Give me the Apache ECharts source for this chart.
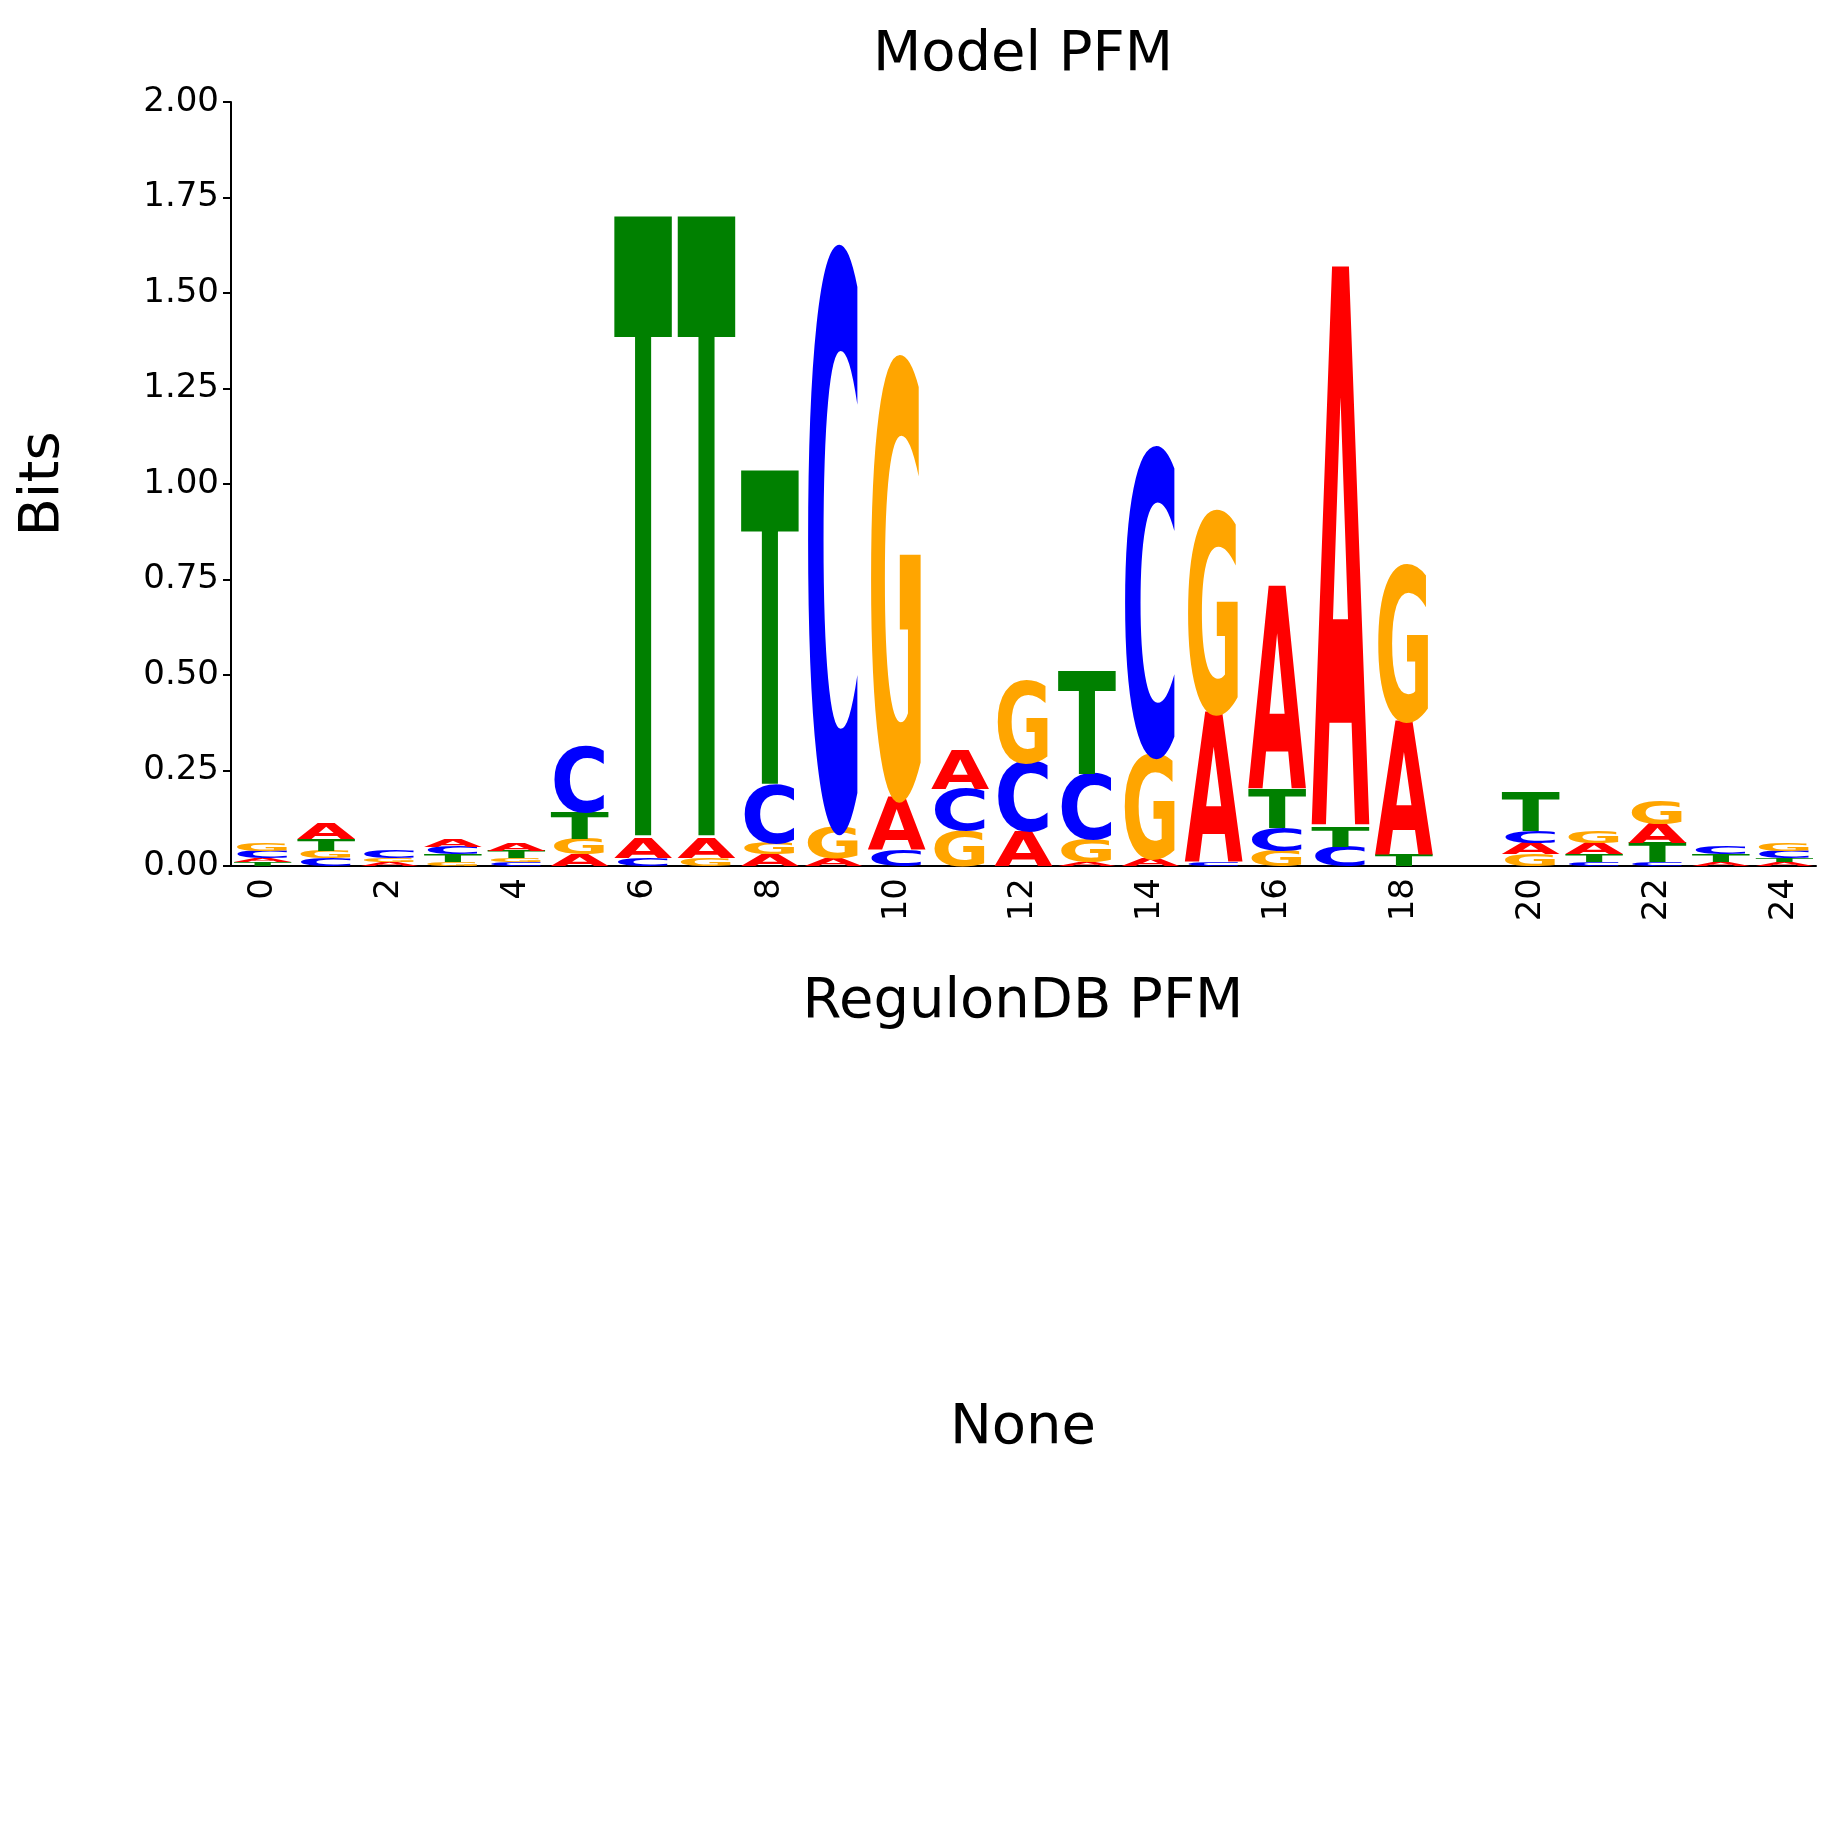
<!DOCTYPE html>
<html><head><meta charset="utf-8">
<script src="https://cdn.jsdelivr.net/npm/echarts@6/dist/echarts.min.js"></script>
<style>html,body{margin:0;background:#fff}#c{width:1834px;height:1834px}</style>
</head><body><div id="c"></div>
<script>
const positions = Array.from({length:25},(_,i)=>String(i));
// stacks bottom->top: [letter, bits]
const stacks = [
 [['T',0.01],['A',0.01],['C',0.02],['G',0.02]],
 [['C',0.02],['G',0.02],['T',0.03],['A',0.04]],
 [['A',0.01],['G',0.01],['C',0.02]],
 [['G',0.01],['T',0.02],['C',0.02],['A',0.02]],
 [['C',0.01],['G',0.01],['T',0.02],['A',0.02]],
 [['A',0.03],['G',0.04],['T',0.07],['C',0.17]],
 [['C',0.02],['A',0.05],['T',1.62]],
 [['G',0.02],['A',0.05],['T',1.62]],
 [['A',0.03],['G',0.03],['C',0.15],['T',0.82]],
 [['A',0.02],['G',0.08],['C',1.49]],
 [['C',0.04],['A',0.14],['G',1.13]],
 [['G',0.09],['C',0.11],['A',0.10]],
 [['A',0.09],['C',0.18],['G',0.21]],
 [['A',0.01],['G',0.06],['C',0.17],['T',0.27]],
 [['A',0.02],['G',0.27],['C',0.79]],
 [['C',0.01],['A',0.39],['G',0.52]],
 [['G',0.04],['C',0.06],['T',0.10],['A',0.53]],
 [['C',0.05],['T',0.05],['A',1.46]],
 [['T',0.03],['A',0.35],['G',0.40]],
 [],
 [['G',0.03],['A',0.03],['C',0.03],['T',0.10]],
 [['C',0.01],['T',0.02],['A',0.03],['G',0.03]],
 [['C',0.01],['T',0.05],['A',0.05],['G',0.06]],
 [['A',0.01],['T',0.02],['C',0.02]],
 [['A',0.01],['T',0.01],['C',0.02],['G',0.02]]
];
const yTicks = [0,0.25,0.5,0.75,1,1.25,1.5,1.75,2];
const colors = {A:'#ff0000',C:'#0000ff',G:'#ffa500',T:'#008000'};
const glyphW = {A:0.774,C:0.734,G:0.821,T:0.682};

const data = [];
stacks.forEach((s,i)=>{let b=0;s.forEach(([l,h])=>{data.push([i,b,b+h,l]);b+=h;});});

const F=100;
const chart = echarts.init(document.getElementById('c'));
chart.setOption({
 animation:false,
 grid:{left:231,right:18,top:102,bottom:968},
 xAxis:{type:'category',data:positions,boundaryGap:true,
   axisLine:{lineStyle:{color:'#000',width:2}},
   axisTick:{alignWithLabel:true,interval:1,length:8,lineStyle:{color:'#000',width:2}},
   axisLabel:{interval:1,rotate:90,fontSize:34,color:'#000',fontFamily:'DejaVu Sans',margin:12}},
 yAxis:{type:'value',min:0,max:2,interval:0.25,
   axisLine:{show:true,lineStyle:{color:'#000',width:2}},
   axisTick:{show:true,length:8,lineStyle:{color:'#000',width:2}},
   splitLine:{show:false},
   axisLabel:{fontSize:34,color:'#000',fontFamily:'DejaVu Sans',formatter:v=>v.toFixed(2),margin:12},
   name:'Bits',nameLocation:'middle',nameGap:160,nameTextStyle:{fontSize:56,color:'#000',fontFamily:'DejaVu Sans'}},
 graphic:[
  {type:'text',style:{text:'Model PFM',x:1023,y:55,align:'center',verticalAlign:'middle',font:'56px DejaVu Sans',fill:'#000'}},
  {type:'text',style:{text:'RegulonDB PFM',x:1023,y:1002,align:'center',verticalAlign:'middle',font:'56px DejaVu Sans',fill:'#000'}},
  {type:'text',style:{text:'None',x:1023,y:1428,align:'center',verticalAlign:'middle',font:'56px DejaVu Sans',fill:'#000'}}
 ],
 series:[{type:'custom',data:data,encode:{x:0,y:[1,2]},clip:false,
  renderItem:(p,api)=>{
   const x=api.value(0),y0=api.value(1),y1=api.value(2),l=api.value(3);
   const pb=api.coord([x,y0]),pt=api.coord([x,y1]);
   const bw=api.size([1,0])[0]*0.92;
   const h=pb[1]-pt[1];
   if(h<=0.3) return null;
   const sy=h/(0.729*F), sx=bw/(glyphW[l]*F);
   return {type:'text',x:pb[0],y:(pb[1]+pt[1])/2,scaleX:sx,scaleY:sy,
     style:{text:l,x:0,y:0.1*F,align:'center',verticalAlign:'middle',font:'bold '+F+'px DejaVu Sans',fill:colors[l]}};
  }}]
});
</script></body></html>
